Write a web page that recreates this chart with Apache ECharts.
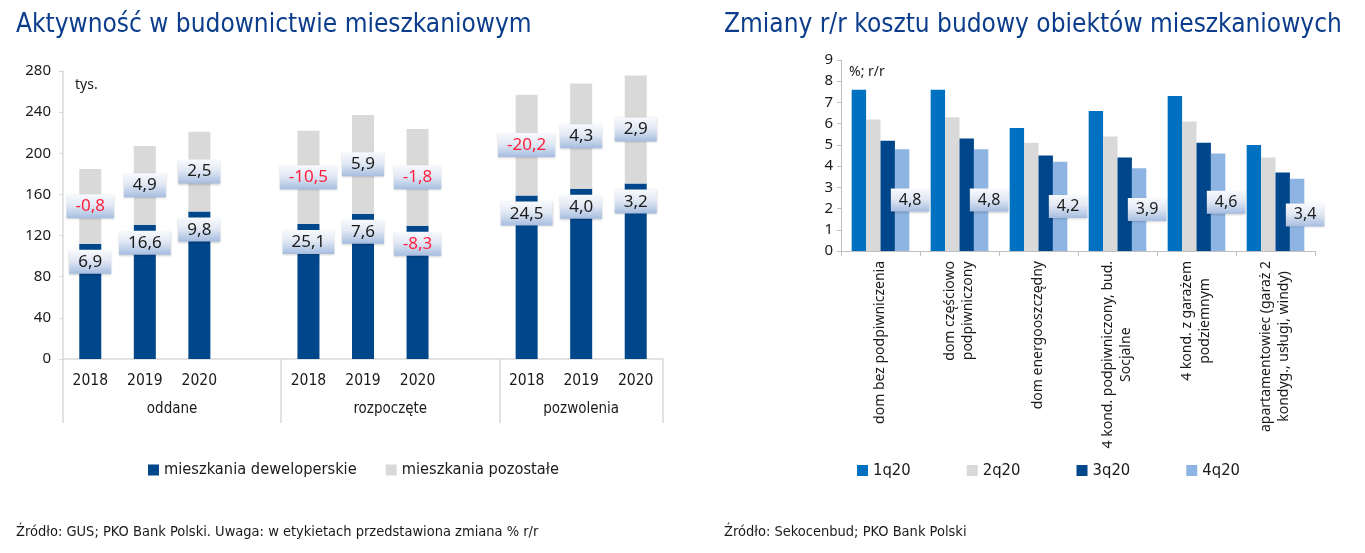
<!DOCTYPE html>
<html><head><meta charset="utf-8">
<script src="https://cdn.jsdelivr.net/npm/echarts@6/dist/echarts.min.js"></script>
<style>html,body{margin:0;padding:0;background:#fff}#c{width:1365px;height:553px}</style>
</head><body><div id="c"></div>
<script>
// ---- Left chart data ----
const leftTitle = 'Aktywność w budownictwie mieszkaniowym';
const leftCategories = ['2018','2019','2020','','2018','2019','2020','','2018','2019','2020'];
const groupNames = ['oddane','rozpoczęte','pozwolenia'];
const groupStarts = [0, 4, 8];
const devValues   = [112.0, 130.6, 143.4, null, 131.3, 141.3, 129.6, null, 159.0, 165.4, 170.7];
const otherValues = [72.8, 76.6, 77.6, null, 90.6, 96.0, 94.0, null, 98.0, 102.5, 104.9];
const devChange   = [6.9, 16.6, 9.8, null, 25.1, 7.6, -8.3, null, 24.5, 4.0, 3.2];
const otherChange = [-0.8, 4.9, 2.5, null, -10.5, 5.9, -1.8, null, -20.2, 4.3, 2.9];
const leftSeriesNames = ['mieszkania deweloperskie','mieszkania pozostałe'];
const leftUnit = 'tys.';
const leftSource = 'Źródło: GUS; PKO Bank Polski. Uwaga: w etykietach przedstawiona zmiana % r/r';

// ---- Right chart data ----
const rightTitle = 'Zmiany r/r kosztu budowy obiektów mieszkaniowych';
const rightCategories = ['dom bez podpiwniczenia','dom częściowo\npodpiwniczony','dom energooszczędny','4 kond. podpiwniczony, bud.\nSocjalne','4 kond. z garażem\npodziemnym','apartamentowiec (garaż 2\nkondyg., usługi, windy)'];
const quarterNames = ['1q20','2q20','3q20','4q20'];
const q1 = [7.6, 7.6, 5.8, 6.6, 7.3, 5.0];
const q2 = [6.2, 6.3, 5.1, 5.4, 6.1, 4.4];
const q3 = [5.2, 5.3, 4.5, 4.4, 5.1, 3.7];
const q4 = [4.8, 4.8, 4.2, 3.9, 4.6, 3.4];
const rightUnit = '%; r/r';
const rightSource = 'Źródło: Sekocenbud; PKO Bank Polski';

// ---- Styles ----
const condensed = "'DejaVu Sans Condensed', 'DejaVu Sans', sans-serif";
const sans = "'Noto Sans', 'Open Sans', sans-serif";
const navy = '#00468b';
const grey = '#d9d9d9';
const titleColor = '#0b3d8c';
const textDark = '#1a1a1a';
const red = '#ff1f3d';
const fmt = v => v.toFixed(1).replace('.', ',');
const labelBg = {type:'linear', x:0, y:0, x2:0, y2:1, colorStops:[
  {offset:0, color:'#f8fafd'}, {offset:0.45, color:'#e2e9f4'}, {offset:1, color:'#a6bde0'}]};
const boxLabelBase = {
  show:true, fontFamily:sans, fontSize:17, backgroundColor:labelBg,
  padding:[4,9,3,9], shadowColor:'rgba(0,0,0,0.18)', shadowBlur:2, shadowOffsetY:1
};

function leftData(values, changes, pos, dist) {
  return values.map((v, i) => v == null ? null : {
    value: v,
    label: Object.assign({}, boxLabelBase, {
      position: pos, distance: dist,
      formatter: fmt(changes[i]),
      color: changes[i] < 0 ? red : textDark
    })
  });
}

// group label axis: half-slot positions
const halfSlots = leftCategories.length * 2 + 1;
const groupLabelData = new Array(halfSlots).fill('');
groupNames.forEach((g, k) => {
  const start = groupStarts[k];
  const end = k + 1 < groupStarts.length ? groupStarts[k + 1] : leftCategories.length;
  groupLabelData[start + end] = g;
});

const chart = echarts.init(document.getElementById('c'), null, {renderer:'canvas'});
chart.setOption({
  animation:false,
  backgroundColor:'#fff',
  title:[
    {text:leftTitle, left:16, top:12, padding:0, textStyle:{fontFamily:condensed, fontSize:26, fontWeight:'normal', color:titleColor}},
    {text:rightTitle, left:724, top:12, padding:0, textStyle:{fontFamily:condensed, fontSize:26, fontWeight:'normal', color:titleColor}}
  ],
  legend:[
    {data:leftSeriesNames, left:143, top:457, itemWidth:11, itemHeight:11, itemGap:29, icon:'rect',
     textStyle:{fontFamily:condensed, fontSize:16.3, color:textDark}},
    {data:quarterNames, left:852, top:457, itemWidth:11, itemHeight:11, itemGap:56, icon:'rect',
     textStyle:{fontFamily:condensed, fontSize:16.5, color:textDark}}
  ],
  grid:[
    {left:63, right:702, top:71, bottom:194},
    {left:841, right:50, top:60, bottom:302}
  ],
  xAxis:[
    {type:'category', gridIndex:0, data:leftCategories, boundaryGap:true,
     axisLine:{lineStyle:{color:grey, width:1.5}},
     axisTick:{show:true, length:64, interval:(i) => groupStarts.includes(i), lineStyle:{color:grey, width:1.5}},
     axisLabel:{interval:0, margin:14, fontFamily:condensed, fontSize:15.5, color:textDark}},
    {type:'category', gridIndex:0, data:groupLabelData, boundaryGap:false, position:'bottom', offset:36,
     axisLine:{show:false}, axisTick:{show:false},
     axisLabel:{interval:0, margin:7, fontFamily:condensed, fontSize:15, color:textDark}},
    {type:'category', gridIndex:1, data:rightCategories, boundaryGap:true,
     axisLine:{lineStyle:{color:'#bfbfbf'}},
     axisTick:{show:true, length:5, lineStyle:{color:'#bfbfbf'}},
     axisLabel:{interval:0, rotate:90, margin:10,
       formatter:(v) => v.split('\n').map(s => '{c|' + s + '}').join('\n'),
       rich:{c:{align:'center', fontFamily:sans, fontSize:14, lineHeight:18, color:textDark}}}}
  ],
  yAxis:[
    {type:'value', gridIndex:0, min:0, max:280, interval:40,
     axisLine:{show:true, lineStyle:{color:grey, width:1.5}},
     axisTick:{show:true, length:4, lineStyle:{color:grey}},
     splitLine:{show:false},
     axisLabel:{margin:12, fontFamily:sans, fontSize:15, color:textDark}},
    {type:'value', gridIndex:1, min:0, max:9, interval:1,
     axisLine:{show:true, lineStyle:{color:'#bfbfbf'}},
     axisTick:{show:true, length:4, lineStyle:{color:'#bfbfbf'}},
     splitLine:{show:false},
     axisLabel:{margin:8, fontFamily:sans, fontSize:15, color:textDark}}
  ],
  series:[
    {name:leftSeriesNames[0], type:'bar', stack:'left', xAxisIndex:0, yAxisIndex:0, barWidth:22,
     itemStyle:{color:navy}, data:leftData(devValues, devChange, 'insideTop', 6)},
    {name:leftSeriesNames[1], type:'bar', stack:'left', xAxisIndex:0, yAxisIndex:0, barWidth:22,
     itemStyle:{color:grey}, data:leftData(otherValues, otherChange, 'inside', 0)},
    {name:quarterNames[0], type:'bar', xAxisIndex:2, yAxisIndex:1, barGap:'0%', barCategoryGap:'27%',
     itemStyle:{color:'#0070c0'}, data:q1},
    {name:quarterNames[1], type:'bar', xAxisIndex:2, yAxisIndex:1, barGap:'0%', barCategoryGap:'27%',
     itemStyle:{color:grey}, data:q2},
    {name:quarterNames[2], type:'bar', xAxisIndex:2, yAxisIndex:1, barGap:'0%', barCategoryGap:'27%',
     itemStyle:{color:navy}, data:q3},
    {name:quarterNames[3], type:'bar', xAxisIndex:2, yAxisIndex:1, barGap:'0%', barCategoryGap:'27%',
     itemStyle:{color:'#8eb4e3'}, data:q4,
     label:Object.assign({}, boxLabelBase, {position:'inside', offset:[8,0], fontSize:16, padding:[4,8,3,8], color:textDark,
       formatter:(p) => fmt(p.value)})}
  ],
  graphic:[
    {type:'text', left:75, top:78, style:{text:leftUnit, fontFamily:sans, fontSize:14, fill:textDark}},
    {type:'text', left:849, top:65, style:{text:rightUnit, fontFamily:sans, fontSize:14, fill:textDark}},
    {type:'text', left:16, top:525, style:{text:leftSource, fontFamily:condensed, fontSize:14.5, fill:textDark}},
    {type:'text', left:724, top:525, style:{text:rightSource, fontFamily:condensed, fontSize:14.5, fill:textDark}}
  ]
});
</script>
</body></html>
